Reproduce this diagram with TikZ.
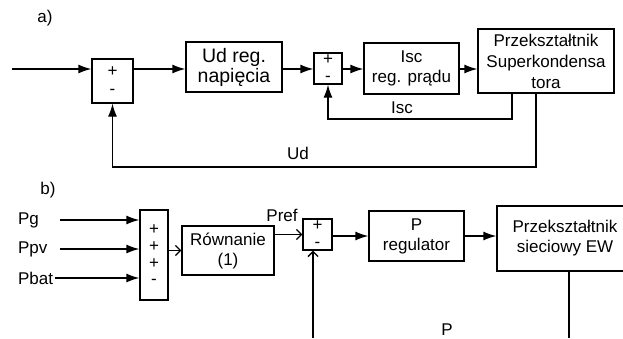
\documentclass[tikz,border=0pt]{standalone}
\usepackage{fontspec}
\setmainfont{Liberation Sans}
\usetikzlibrary{arrows.meta,positioning}

\tikzset{
  blok/.style={draw, line width=1.3pt, align=center, inner sep=0pt},
  sumbox/.style={draw, line width=1.3pt, align=center, inner sep=0pt,
    font=\fontsize{17}{17}\selectfont},
  open/.style={-{Straight Barb[length=5pt,width=10pt]}},
}

\begin{document}
\begin{tikzpicture}[x=1pt, y=-1pt, line width=1.3pt,
    font=\fontsize{17}{20}\selectfont, >={Latex[length=13pt,width=9pt]}]
  \useasboundingbox (0,0) rectangle (623,338);
  \clip (0,0) rectangle (623,338);

  % a) superkondensator
  \node (lblA) at (45,18) {a)};
  \coordinate (inA) at (12,69);
  \node[sumbox, minimum width=41pt, minimum height=44pt,
    font=\fontsize{17}{18}\selectfont] (sumA) at (112.5,81) {+\\-};
  \node[blok, minimum width=96pt, minimum height=50pt,
    font=\fontsize{19.5}{20}\selectfont] (udreg) at (234,67) {Ud reg.\\napięcia};
  \node[sumbox, minimum width=28pt, minimum height=31pt] (sumB) at (328,68.5) {+\\-};
  \node[blok, minimum width=95pt, minimum height=51pt] (iscreg) at (411.5,68.5) {Isc\\reg. prądu};
  \node[blok, minimum width=136pt, minimum height=64pt,
    font=\fontsize{17}{21}\selectfont] (convA) at (546,61) {Przekształtnik\\Superkondensa\\tora};

  \draw[->] (inA) -- (inA -| sumA.west);
  \draw[->] (sumA.east |- inA) -- (udreg.west |- inA);
  \draw[->] (udreg.east |- inA) -- (sumB.west |- inA);
  \draw[->] (sumB.east |- inA) -- (iscreg.west |- inA);
  \draw[->] (iscreg.east |- inA) -- (convA.west |- inA);

  \coordinate (fbIsc) at (512,119);
  \draw[->] (fbIsc |- convA.south) -- (fbIsc) -| (sumB.south);
  \node (lblIsc) at (402,108) {Isc};
  \coordinate (fbUd) at (536,167);
  \draw[->] (fbUd |- convA.south) -- (fbUd) -| (sumA.south);
  \node (lblUd) at (298,153) {Ud};

  % b) przeksztaltnik sieciowy
  \node (lblB) at (48,190) {b)};
  \node[anchor=west, inner sep=1.5pt] (pg) at (16,220) {Pg};
  \node[anchor=west, inner sep=1.5pt] (ppv) at (16,249) {Ppv};
  \node[anchor=west, inner sep=1.5pt] (pbat) at (16,278) {Pbat};
  \coordinate (pgIn) at (60,220);
  \coordinate (ppvIn) at (60,249);
  \node[sumbox, minimum width=28pt, minimum height=90pt,
    font=\fontsize{17}{16.7}\selectfont] (sumC) at (154,255) {+\\+\\+\\-};
  \draw[->] (pgIn) -- (pgIn -| sumC.west);
  \draw[->] (ppvIn) -- (ppvIn -| sumC.west);
  \draw[->] (pbat.east) -- (pbat.east -| sumC.west);

  \node[blok, minimum width=92pt, minimum height=49pt] (rown) at (228,250.5) {Równanie\\(1)};
  \draw[open] (sumC.east |- rown) -- (rown.west);
  \node[sumbox, minimum width=29pt, minimum height=31pt] (sumD) at (317.5,234.5) {+\\-};
  \draw[open] (rown.east |- sumD) -- (sumD.west);
  \node (lblPref) at (282,215) {Pref};
  \node[blok, minimum width=95pt, minimum height=50pt] (preg) at (416.5,236) {P\\regulator};
  \draw[->] (sumD.east |- preg) -- (preg.west);
  \node[blok, minimum width=136pt, minimum height=65pt] (convB) at (565,238.5) {Przekształtnik\\sieciowy EW};
  \draw[->] (preg.east) -- (preg.east -| convB.west);

  \coordinate (pOut) at (569,338);
  \draw (pOut |- convB.south) -- (pOut);
  \coordinate (pIn) at (313,338);
  \draw[open] (pIn) -- (pIn |- sumD.south);
  \node (lblP) at (447,330) {P};
\end{tikzpicture}
\end{document}
